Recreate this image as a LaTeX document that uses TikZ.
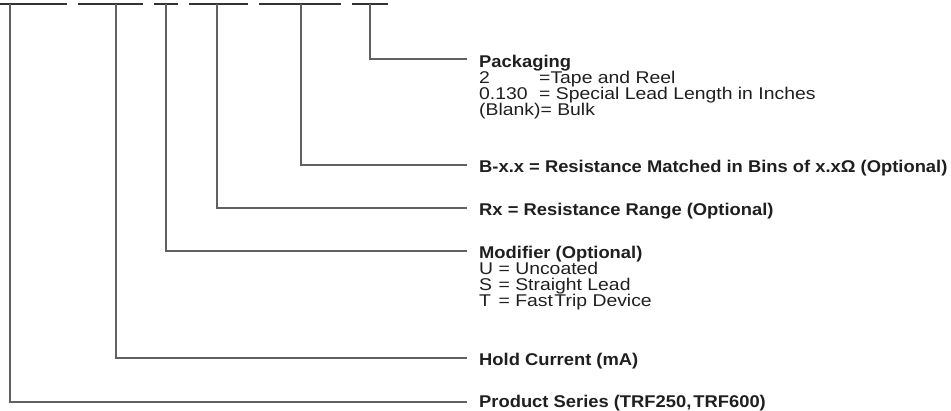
\documentclass[tikz,border=0pt]{standalone}
\usepackage{fontspec}
\setmainfont{Liberation Sans}
\newfontfamily\lblregfont{Liberation Sans}[FakeStretch=1.14]
\newfontfamily\lblboldfont{Liberation Sans Bold}[FakeStretch=1.08]
\begin{document}
\begin{tikzpicture}[x=1pt,y=-1pt,
  bar/.style={draw=black!80, line width=2.4pt},
  lead/.style={draw=black!62, line width=1.3pt},
  lblb/.style={anchor=base west, inner sep=0pt, font=\fontsize{17}{16}\lblboldfont, text=black!88},
  lbl/.style={anchor=base west, inner sep=0pt, font=\fontsize{17}{16}\lblregfont, text=black!88},
]
\useasboundingbox (0,0) rectangle (951,411);
% code bars
\draw[bar] (0,4) -- (67,4);
\draw[bar] (78,4) -- (143,4);
\draw[bar] (154,4) -- (178,4);
\draw[bar] (189,4) -- (248,4);
\draw[bar] (259,4) -- (341,4);
\draw[bar] (352,4) -- (388,4);
% connector starts
\coordinate (t1) at (10,4);
\coordinate (t2) at (116,4);
\coordinate (t3) at (166,4);
\coordinate (t4) at (217,4);
\coordinate (t5) at (301,4);
\coordinate (t6) at (370,4);
% connector ends
\coordinate (e6) at (467,59);
\coordinate (e5) at (467,165);
\coordinate (e4) at (467,208);
\coordinate (e3) at (467,251);
\coordinate (e2) at (467,358);
\coordinate (e1) at (467,402);
\draw[lead] (t6) |- (e6);
\draw[lead] (t5) |- (e5);
\draw[lead] (t4) |- (e4);
\draw[lead] (t3) |- (e3);
\draw[lead] (t2) |- (e2);
\draw[lead] (t1) |- (e1);
% labels
\node[lblb] (pk) at (479,67.5) {Packaging};
\node[lbl] (pk1) at (479,83.5) {\makebox[60pt][l]{2}=Tape and Reel};
\node[lbl] (pk2) at (479,99.5) {\makebox[60pt][l]{0.130}= Special Lead Length in Inches};
\node[lbl] (pk3) at (479,115.5) {(Blank)= Bulk};
\node[lblb] (bx) at (479,172.5) {B-x.x = Resistance Matched in Bins of x.xΩ (Optional)};
\node[lblb] (rx) at (479,215.5) {Rx = Resistance Range (Optional)};
\node[lblb] (md) at (479,258.5) {Modifier (Optional)};
\node[lbl] (md1) at (479,274.5) {U = Uncoated};
\node[lbl] (md2) at (479,290.5) {\rlap{S}\phantom{U} = Straight Lead};
\node[lbl] (md3) at (479,306.5) {\rlap{T}\phantom{U} = Fast\hspace{1.5pt}Trip Device};
\node[lblb] (hc) at (479,365.5) {Hold Current (mA)};
\node[lblb] (ps) at (479,407.5) {Product Series (TRF250,\hspace{2pt}TRF600)};
\end{tikzpicture}
\end{document}
